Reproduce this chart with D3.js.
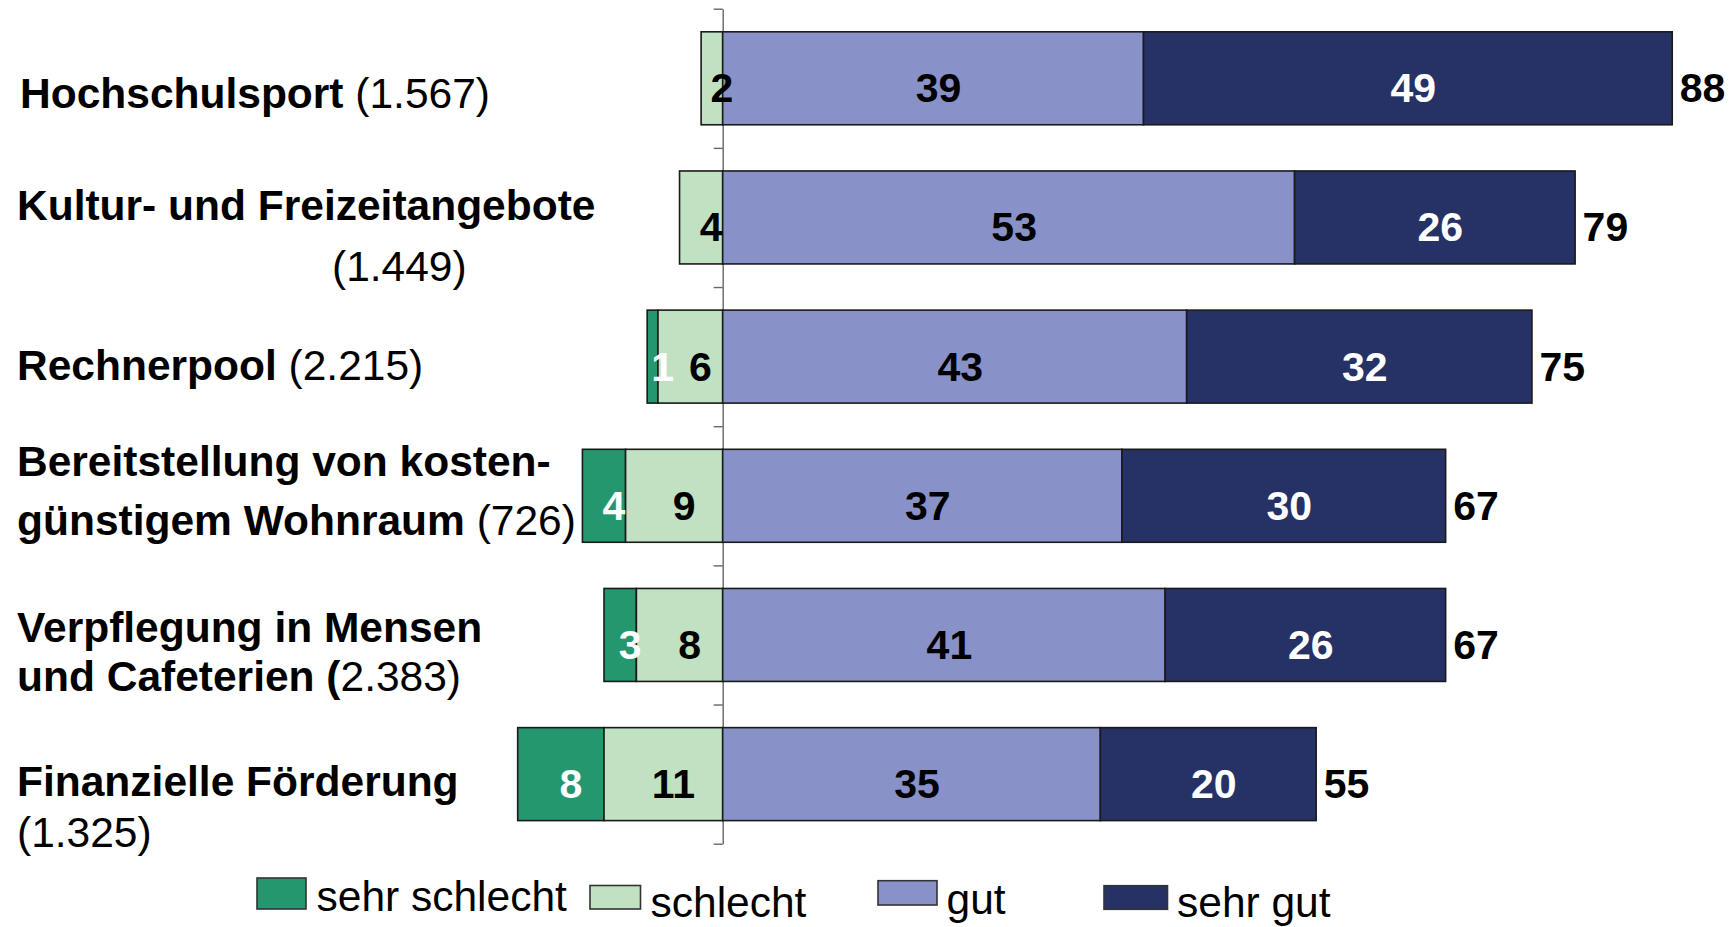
<!DOCTYPE html>
<html lang="de">
<head>
<meta charset="utf-8">
<title>Zufriedenheit mit Serviceangeboten</title>
<script src="https://cdn.jsdelivr.net/npm/d3@7/dist/d3.min.js"></script>
<style>
  html, body { margin: 0; padding: 0; background: #ffffff; }
  svg { display: block; font-family: "Liberation Sans", Arial, sans-serif; }
</style>
</head>
<body>
<svg id="chart" width="1736" height="927"></svg>
<script>
// ---- data ---------------------------------------------------------------
const categories = [
  "Hochschulsport",
  "Kultur- und Freizeitangebote",
  "Rechnerpool",
  "Bereitstellung von kostengünstigem Wohnraum",
  "Verpflegung in Mensen und Cafeterien",
  "Finanzielle Förderung"
];
// category label lines: each line is a list of [text, bold]
const categoryLines = [
  [[["Hochschulsport", true], [" (1.567)", false]]],
  [[["Kultur- und Freizeitangebote", true]], [["(1.449)", false]]],
  [[["Rechnerpool", true], [" (2.215)", false]]],
  [[["Bereitstellung von kosten-", true]], [["günstigem Wohnraum", true], [" (726)", false]]],
  [[["Verpflegung in Mensen", true]], [["und Cafeterien (", true], ["2.383)", false]]],
  [[["Finanzielle Förderung", true]], [["(1.325)", false]]]
];
const seriesNames = ["sehr schlecht", "schlecht", "gut", "sehr gut"];
const sehrSchlecht = [0, 0, 1, 4, 3, 8];
const schlecht     = [2, 4, 6, 9, 8, 11];
const gut          = [39, 53, 43, 37, 41, 35];
const sehrGut      = [49, 26, 32, 30, 26, 20];
const positiveTotal = [88, 79, 75, 67, 67, 55];

// ---- styling / layout ---------------------------------------------------
const colors = ["#24976F", "#C1E1C3", "#8892C8", "#263265"];
const labelColors = ["#ffffff", "#000000", "#000000", "#ffffff"];
const FONT_LABEL = 42.5;
const FONT_VALUE = 41;

const svg = d3.select("#chart");

const x = d3.scaleLinear()
  .domain([-20, 90])
  .range([722.7 - 20 * 10.79, 722.7 + 90 * 10.79]);

const y = d3.scaleBand()
  .domain(categories)
  .range([8.7, 843.7])
  .paddingInner(0.332)
  .paddingOuter(0.166);

// band boundaries for the tick marks on the zero line
const yTicks = d3.scaleLinear().domain([0, categories.length]).range([8.7, 843.7]);

// ---- zero axis ------------------------------------------------------------
const axisG = svg.append("g")
  .attr("transform", `translate(${x(0)},0)`)
  .call(d3.axisLeft(yTicks)
    .tickValues(d3.range(0, categories.length + 1))
    .tickSize(9)
    .tickSizeOuter(0)
    .tickFormat(""));
axisG.select(".domain").attr("stroke", "#666").attr("stroke-width", 1.4);
axisG.selectAll(".tick line").attr("stroke", "#666").attr("stroke-width", 1.4);

// ---- stacked segments -----------------------------------------------------
const rows = categories.map((c, i) => {
  const vals = [sehrSchlecht[i], schlecht[i], gut[i], sehrGut[i]];
  // negative side grows leftwards from zero, positive side rightwards
  const segs = [
    { s: 0, v: vals[0], x0: -(vals[0] + vals[1]), x1: -vals[1] },
    { s: 1, v: vals[1], x0: -vals[1], x1: 0 },
    { s: 2, v: vals[2], x0: 0, x1: vals[2] },
    { s: 3, v: vals[3], x0: vals[2], x1: vals[2] + vals[3] }
  ].filter(d => d.v > 0);
  return { cat: c, i, segs };
});

const rowG = svg.selectAll("g.row")
  .data(rows)
  .join("g")
  .attr("class", "row")
  .attr("transform", d => `translate(0,${y(d.cat)})`);

rowG.selectAll("rect.seg")
  .data(d => d.segs)
  .join("rect")
  .attr("class", "seg")
  .attr("x", d => x(d.x0))
  .attr("y", 0)
  .attr("width", d => x(d.x1) - x(d.x0))
  .attr("height", y.bandwidth())
  .attr("fill", d => colors[d.s])
  .attr("stroke", "#1a1a1a")
  .attr("stroke-width", 1.6);

const bw = y.bandwidth();

// values inside segments
rowG.selectAll("text.val")
  .data(d => d.segs)
  .join("text")
  .attr("class", "val")
  .attr("x", d => (x(d.x0) + x(d.x1)) / 2 + (d.s < 2 ? 10 : 5.5))
  .attr("y", bw / 2 + 24)
  .attr("text-anchor", "middle")
  .attr("font-size", FONT_VALUE)
  .attr("font-weight", "bold")
  .attr("fill", d => labelColors[d.s])
  .text(d => d.v);

// positive totals right of the bars
rowG.append("text")
  .attr("x", d => x(positiveTotal[d.i]) + 7.5)
  .attr("y", bw / 2 + 24)
  .attr("font-size", FONT_VALUE)
  .attr("font-weight", "bold")
  .attr("fill", "#000")
  .text(d => positiveTotal[d.i]);

// ---- category labels --------------------------------------------------------
// per line: [x, baseline]
const linePos = [
  [[20, 108]],
  [[17, 220], [332, 281]],
  [[17, 380]],
  [[17, 476], [17, 535]],
  [[17, 642], [17, 691]],
  [[17, 796], [17, 847]]
];
categoryLines.forEach((lines, i) => {
  lines.forEach((parts, j) => {
    const t = svg.append("text")
      .attr("x", linePos[i][j][0])
      .attr("y", linePos[i][j][1])
      .attr("font-size", FONT_LABEL)
      .attr("fill", "#000");
    t.selectAll("tspan")
      .data(parts)
      .join("tspan")
      .attr("font-weight", d => d[1] ? "bold" : "normal")
      .attr("xml:space", "preserve")
      .text(d => d[0]);
  });
});

// ---- legend -------------------------------------------------------------
const legendBoxes = [
  { x: 257, y: 878, w: 49, h: 31, tx: 316.5, ty: 911 },
  { x: 590, y: 885.5, w: 50.5, h: 23.5, tx: 650.5, ty: 917 },
  { x: 878, y: 880.7, w: 59, h: 24.3, tx: 946.5, ty: 914 },
  { x: 1104, y: 885.7, w: 63.5, h: 23.6, tx: 1177, ty: 917 }
];
const leg = svg.selectAll("g.legend")
  .data(seriesNames)
  .join("g")
  .attr("class", "legend");
leg.append("rect")
  .attr("x", (d, i) => legendBoxes[i].x)
  .attr("y", (d, i) => legendBoxes[i].y)
  .attr("width", (d, i) => legendBoxes[i].w)
  .attr("height", (d, i) => legendBoxes[i].h)
  .attr("fill", (d, i) => colors[i])
  .attr("stroke", "#333")
  .attr("stroke-width", 1.6);
leg.append("text")
  .attr("x", (d, i) => legendBoxes[i].tx)
  .attr("y", (d, i) => legendBoxes[i].ty)
  .attr("font-size", FONT_LABEL)
  .attr("fill", "#000")
  .text(d => d);
</script>
</body>
</html>
